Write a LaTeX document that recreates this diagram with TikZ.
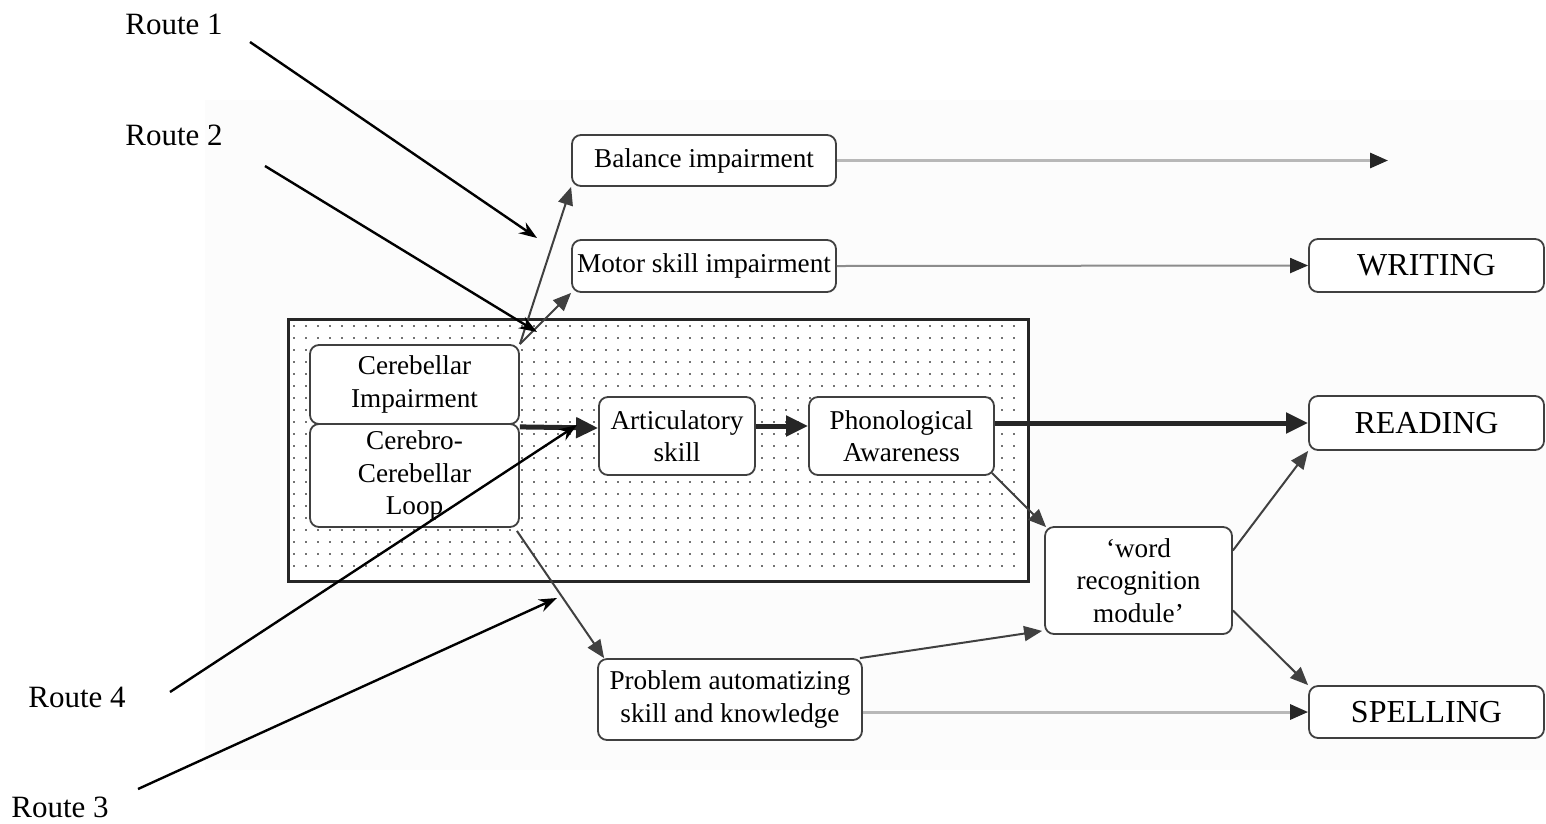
\documentclass[tikz,border=0pt]{standalone}
\usepackage{fontspec}
\setmainfont{Liberation Serif}
\usetikzlibrary{arrows.meta}
\begin{document}
\begin{tikzpicture}[x=1pt,y=-1pt,
 box/.style={draw=black!75, line width=1.8pt, rounded corners=9pt, fill=white, align=center, inner sep=0pt, font=\rmfamily\fontsize{27.2}{32.4}\selectfont},
 big/.style={box, font=\rmfamily\fontsize{32}{38}\selectfont},
 lab/.style={font=\rmfamily\fontsize{31}{37}\selectfont, anchor=base},
 heavy/.style={line width=5pt, black!85, -{Triangle[length=22pt,width=20pt]}},
 conn/.style={line width=2pt, black!75, -{Triangle[length=18pt,width=15pt]}},
 grayline/.style={line width=3pt, black!28, -{Triangle[length=18pt,width=15pt,color=black!85]}},
 thingray/.style={line width=2pt, black!45, -{Triangle[length=18pt,width=15pt,color=black!85]}},
 route/.style={line width=2.4pt, black, -{Stealth[length=18pt,width=13pt]}}
]
\useasboundingbox (0,0) rectangle (1546,823);
\fill[black!1] (205,100) rectangle (1546,770);
% dotted region
\node[draw=black!85, line width=2.5pt, fill=white, minimum width=740pt, minimum height=262pt, inner sep=0pt, anchor=north west] (area) at (287,318) {};
\foreach \x in {294,306,...,1020} {
  \foreach \y in {326,338,...,574} {
    \fill[black!55] (\x-1.2,\y-1.2) rectangle (\x+1.2,\y+1.2);
  }
}
% nodes
\node[box, minimum width=264pt, minimum height=51pt] (bal) at (704,160.5) {Balance impairment};
\node[box, minimum width=264pt, minimum height=52pt] (mot) at (704,266) {Motor skill impairment};
\node[big, minimum width=235pt, minimum height=53pt] (wri) at (1426.5,265.5) {WRITING};
\node[big, minimum width=235pt, minimum height=54pt] (rea) at (1426.5,423) {READING};
\node[big, minimum width=235pt, minimum height=52pt] (spe) at (1426.5,712) {SPELLING};
\node[box, minimum width=209pt, minimum height=79pt] (cer) at (414.5,384.5) {Cerebellar\\Impairment};
\node[box, minimum width=209pt, minimum height=103pt] (loop) at (414.5,475.5) {Cerebro-\\Cerebellar\\Loop};
\node[box, minimum width=156pt, minimum height=78pt] (art) at (677,436) {Articulatory\\skill};
\node[box, minimum width=185pt, minimum height=78pt] (pho) at (901.5,436) {Phonological\\Awareness};
\node[box, minimum width=187pt, minimum height=107pt] (wrd) at (1138.5,580.5) {`word\\recognition\\module'};
\node[box, minimum width=264pt, minimum height=81pt] (prb) at (730,699.5) {Problem automatizing\\skill and knowledge};
% route labels
\node[lab] (r1) at (174,34) {Route 1};
\node[lab] (r2) at (174,145) {Route 2};
\node[lab] (r4) at (77,707) {Route 4};
\node[lab] (r3) at (60,817) {Route 3};
\coordinate (balend) at (1388,160.5);
\coordinate (r1s) at (250,42);
\coordinate (r1e) at (537,238);
\coordinate (r2s) at (265,166);
\coordinate (r2e) at (537,332);
\coordinate (r4s) at (170,692);
\coordinate (r4e) at (577,425);
\coordinate (r3s) at (138,789);
\coordinate (r3e) at (557,598);
% connectors
\draw[grayline] (bal.east) -- (balend);
\draw[thingray] (mot.east) -- (wri.west);
\draw[grayline] (prb.east |- spe.west) -- (spe.west);
\draw[conn] (cer.north east) -- (bal.south west);
\draw[conn] (cer.north east) -- (mot.south west);
\draw[heavy] ([yshift=-2pt]cer.south east) -- ([yshift=8pt]art.west);
\draw[heavy] ([yshift=10pt]art.east) -- ([yshift=10pt]pho.west);
\draw[heavy] (pho.east |- rea.west) -- (rea.west);
\draw[conn] ([shift={(-3pt,3pt)}]pho.south east) -- ([shift={(2pt,-1pt)}]wrd.north west);
\draw[conn] ([shift={(-3pt,-3pt)}]loop.south east) -- ([shift={(7pt,0pt)}]prb.north west);
\draw[conn] ([shift={(-3pt,0pt)}]prb.north east) -- ([shift={(-2pt,4pt)}]wrd.south west);
\draw[conn] ([yshift=30pt]wrd.east) -- (rea.south west);
\draw[conn] ([yshift=-30pt]wrd.east) -- (spe.north west);
% route arrows
\draw[route] (r1s) -- (r1e);
\draw[route] (r2s) -- (r2e);
\draw[route] (r4s) -- (r4e);
\draw[route] (r3s) -- (r3e);
\end{tikzpicture}
\end{document}
